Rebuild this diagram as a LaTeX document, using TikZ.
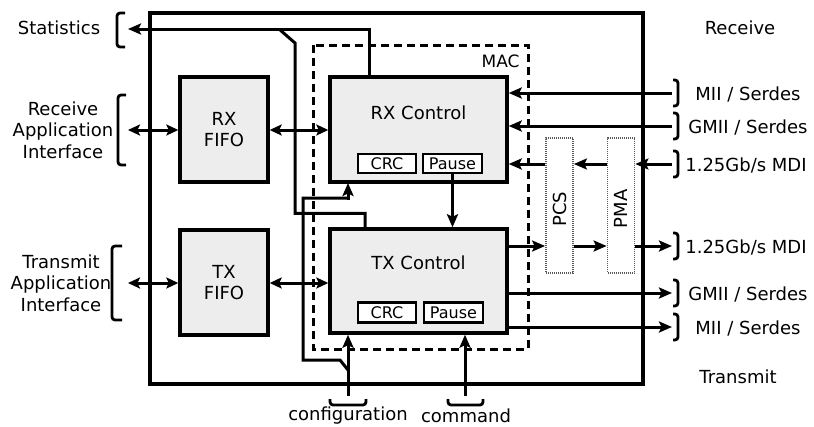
\documentclass[tikz,border=0pt]{standalone}
\usepackage{fontspec}
\setmainfont{DejaVu Sans}
\usetikzlibrary{arrows.meta}
\begin{document}
\begin{tikzpicture}[x=1pt,y=-1pt,line width=3pt,
  block/.style={draw,fill=black!7,line width=3.4pt,inner sep=0pt,align=center,font=\fontsize{18}{21}\selectfont},
  tag/.style={draw,fill=white,line width=2.8pt,inner sep=0pt,font=\fontsize{16}{16}\selectfont},
  phy/.style={draw,black!65,line width=1.8pt,dash pattern=on 1pt off 1pt,inner sep=0pt,minimum width=27pt,minimum height=135pt},
  lbl/.style={align=center,font=\fontsize{18}{21.5}\selectfont,inner sep=0pt},
  ar/.style={-{Stealth[length=13pt,width=11pt,inset=2.5pt]}},
  dar/.style={{Stealth[length=12pt,width=11pt,inset=2.5pt]}-{Stealth[length=12pt,width=11pt,inset=2.5pt]}},
  brk/.style={line width=2.8pt,rounded corners=3pt}]
\useasboundingbox[fill=white] (0,0) rectangle (814,426);

% outer box and MAC boundary
\draw[line width=3.2pt] (150,13) rectangle (643,384);
\draw[line width=3pt,dash pattern=on 8pt off 5pt] (313,45) rectangle (528,349);
\node[lbl,anchor=east,font=\fontsize{17}{17}\selectfont] (mac) at (521,61) {MAC};

% blocks
\node[block,minimum width=88pt,minimum height=105pt] (rxfifo) at (224,129.5) {RX\\FIFO};
\node[block,minimum width=88pt,minimum height=105pt] (txfifo) at (224,282.5) {TX\\FIFO};
\node[block,minimum width=177pt,minimum height=105pt] (rxc) at (418.5,129.5) {};
\node[lbl] (rxct) at (418.5,113) {RX Control};
\node[block,minimum width=177pt,minimum height=104pt] (txc) at (418.5,281) {};
\node[lbl] (txct) at (418.5,263) {TX Control};
\node[tag,minimum width=58pt,minimum height=19pt] (rxcrc) at (387,163.5) {CRC};
\node[tag,minimum width=59pt,minimum height=19pt] (rxpause) at (452.5,163.5) {Pause};
\node[tag,minimum width=58pt,minimum height=20pt] (txcrc) at (387,312.5) {CRC};
\node[tag,minimum width=59pt,minimum height=20pt] (txpause) at (453.5,312.5) {Pause};
\node[phy] (pcs) at (559.5,205.5) {};
\node[lbl,rotate=90] (pcst) at (559.5,209) {PCS};
\node[phy] (pma) at (621,205.5) {};
\node[lbl,rotate=90] (pmat) at (621,209) {PMA};

% left labels and brackets
\node[lbl] (stat) at (59,28) {Statistics};
\node[lbl] (rxapp) at (63,130) {Receive\\Application\\Interface};
\node[lbl] (txapp) at (61,283) {Transmit\\Application\\Interface};
\draw[brk] (125,13) -- (117,13) -- (117,47) -- (125,47);
\draw[brk] (126,95) -- (118,95) -- (118,165) -- (126,165);
\draw[brk] (122,246) -- (112,246) -- (112,320) -- (122,320);

% right labels and brackets
\node[lbl] (receive) at (740,28) {Receive};
\node[lbl] (transmit) at (738,377) {Transmit};
\coordinate (mii1) at (672,93);
\coordinate (gmii1) at (672,126);
\coordinate (mdi1) at (672,164);
\coordinate (mdi2) at (672,246);
\coordinate (gmii2) at (672,293);
\coordinate (mii2) at (672,327);
\foreach \c in {mii1,gmii1,mdi1,mdi2,gmii2,mii2}{
  \draw[brk] ([xshift=1pt,yshift=-13pt]\c) -- ([xshift=6pt,yshift=-13pt]\c) -- ([xshift=6pt,yshift=13pt]\c) -- ([xshift=1pt,yshift=13pt]\c);
}
\node[lbl] (l1) at (748,94) {MII / Serdes};
\node[lbl] (l2) at (748,127) {GMII / Serdes};
\node[lbl] (l3) at (746,165) {1.25Gb/s MDI};
\node[lbl] (l4) at (746,247) {1.25Gb/s MDI};
\node[lbl] (l5) at (748,294) {GMII / Serdes};
\node[lbl] (l6) at (748,328) {MII / Serdes};

% bottom labels and brackets
\coordinate (cfg) at (348,396);
\coordinate (cmd) at (465,396);
\draw[brk] (330,399) -- (330,405) -- (366,405) -- (366,399);
\draw[brk] (448,399) -- (448,405) -- (483,405) -- (483,399);
\node[lbl] (cfgt) at (348,416) {configuration};
\node[lbl] (cmdt) at (466,416) {command};

% application interfaces
\coordinate (rxa) at (128,130);
\coordinate (txa) at (128,283);
\draw[dar] (rxa) -- (rxa -| rxfifo.west);
\draw[dar] (rxfifo.east |- rxa) -- (rxa -| rxc.west);
\draw[dar] (txa) -- (txa -| txfifo.west);
\draw[dar] (txfifo.east |- txa) -- (txa -| txc.west);

% statistics
\coordinate (sta) at (128,29);
\draw[ar] ([xshift=-49.5pt]rxc.north) |- (sta);
\draw ([xshift=-53.5pt]txc.north) -- ++(0,-14) -| (295,43) -- (279,29);

% configuration and command
\draw[ar] (cfg) -- (cfg |- txc.south);
\draw (348,370) -- (340,360) -- (303,360) -- (303,198) -- (348,198);
\draw[ar] (348,199.5) -- (348,183);
\draw[ar] (rxpause.south) -- (rxpause.south |- txc.north);
\draw[ar] (cmd) -- (cmd |- txc.south);

% receive side
\draw[ar] (mii1) -- (mii1 -| rxc.east);
\draw[ar] (gmii1) -- (gmii1 -| rxc.east);
\draw[ar] (mdi1) -- (mdi1 -| pma.east);
\draw[ar] (mdi1 -| pma.west) -- (mdi1 -| pcs.east);
\draw[ar] (mdi1 -| pcs.west) -- (mdi1 -| rxc.east);

% transmit side
\draw[ar] (mdi2 -| txc.east) -- (mdi2 -| pcs.west);
\draw[ar] (mdi2 -| pcs.east) -- (mdi2 -| pma.west);
\draw[ar] (mdi2 -| pma.east) -- (mdi2);
\draw[ar] (gmii2 -| txc.east) -- (gmii2);
\draw[ar] (mii2 -| txc.east) -- (mii2);
\end{tikzpicture}
\end{document}
